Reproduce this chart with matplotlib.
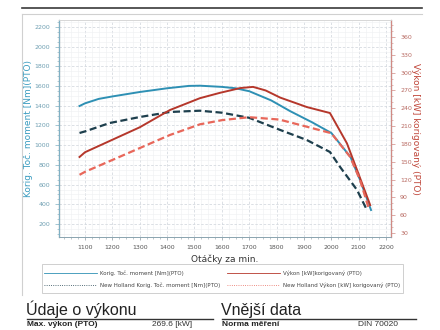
import matplotlib
matplotlib.use("Agg")
import matplotlib.pyplot as plt
from matplotlib.lines import Line2D
from matplotlib.patches import Rectangle
from matplotlib.ticker import AutoMinorLocator

# ── Paleta ──────────────────────────────────────────────────
BLUE = "#2e90b4"
RED = "#b5372b"
NAVY = "#1e3f4d"
SALMON = "#e8675a"
GRID = "#d6dbe0"

# ── Datos ───────────────────────────────────────────────────
rpm_moment = [1080, 1100, 1150, 1200, 1300, 1400, 1480, 1520, 1600, 1650, 1700, 1780, 1850, 1930, 2000, 2070, 2105, 2145]
moment = [1398, 1425, 1470, 1495, 1540, 1578, 1602, 1604, 1592, 1578, 1548, 1455, 1345, 1232, 1124, 880, 647, 342]

rpm_vykon = [1080, 1100, 1200, 1300, 1410, 1520, 1593, 1667, 1714, 1760, 1813, 1911, 1995, 2057, 2094, 2142]
vykon = [158, 166, 187, 208, 237, 257, 266, 274, 276, 270, 258, 242, 232, 181, 136, 77]

rpm_nh_moment = [1080, 1100, 1190, 1300, 1410, 1490, 1520, 1600, 1700, 1810, 1910, 1995, 2032, 2094, 2130]
nh_moment = [1124, 1140, 1225, 1286, 1337, 1347, 1350, 1330, 1278, 1158, 1053, 931, 779, 545, 342]

rpm_nh_vykon = [1080, 1100, 1200, 1300, 1410, 1520, 1600, 1700, 1810, 1910, 2000, 2069, 2105, 2135]
nh_vykon = [128, 133, 153, 173, 195, 213, 220, 225, 221, 209, 198, 158, 119, 74]

x_ticks = list(range(1100, 2201, 100))
left_ticks = list(range(200, 2201, 200))
right_ticks = list(range(30, 361, 30))

W, H = 440, 330
fx = lambda px: px / W
fy = lambda py: 1 - py / H

fig = plt.figure(figsize=(4.4, 3.3), dpi=100)
fig.patch.set_facecolor("white")

# rámeček
fig.add_artist(Line2D([fx(22), fx(422)], [fy(8), fy(8)], color="#3a3a3a", lw=1.2))
fig.add_artist(Line2D([fx(22), fx(422)], [fy(14), fy(14)], color="#d0d0d0", lw=0.8))
fig.add_artist(Line2D([fx(22), fx(22)], [fy(14), fy(295)], color="#d0d0d0", lw=0.8))

ax = fig.add_axes([fx(59), fy(237), (391 - 59) / W, (237 - 20) / H])
ax2 = ax.twinx()

ax.set_xlim(1005, 2218)
ax.set_ylim(68, 2271)
ax2.set_ylim(23.3, 388.6)

ax.plot(rpm_moment, moment, color=BLUE, lw=1.4, zorder=4)
ax.plot(rpm_nh_moment, nh_moment, color=NAVY, lw=1.6, ls=(0, (3.2, 1.6)), zorder=4)
ax2.plot(rpm_vykon, vykon, color=RED, lw=1.4, zorder=4)
ax2.plot(rpm_nh_vykon, nh_vykon, color=SALMON, lw=1.6, ls=(0, (3.2, 1.6)), zorder=4)

ax.set_xticks(x_ticks)
ax.set_yticks(left_ticks)
ax2.set_yticks(right_ticks)
ax.xaxis.set_minor_locator(AutoMinorLocator(4))
ax.yaxis.set_minor_locator(AutoMinorLocator(4))
ax2.yaxis.set_minor_locator(AutoMinorLocator(3))

ax.grid(which="major", color=GRID, lw=0.6, ls=(0, (3, 2)))
ax.grid(which="minor", color="#eef0f2", lw=0.4)
ax.set_axisbelow(True)

ax.tick_params(axis="x", labelsize=4.5, colors="#8a97a0", labelcolor="#555555", length=2.5, width=0.5)
ax.tick_params(axis="x", which="minor", length=1.5, width=0.4, colors="#8a97a0")
ax.tick_params(axis="y", labelsize=4.5, colors="#7fb0c4", labelcolor="#6f9fb2", length=3, width=0.5)
ax.tick_params(axis="y", which="minor", length=1.5, width=0.4, colors="#7fb0c4")
ax2.tick_params(axis="y", labelsize=4.5, colors="#d08a84", labelcolor="#b86a62", length=3, width=0.5)
ax2.tick_params(axis="y", which="minor", length=1.5, width=0.4, colors="#d08a84")

for a in (ax, ax2):
    a.spines["top"].set_color("#d8d8d8")
    a.spines["top"].set_linewidth(0.6)
    a.spines["bottom"].set_color("#8aa4b0")
    a.spines["bottom"].set_linewidth(0.6)
ax2.spines["left"].set_color("#7fb0c4")
ax2.spines["left"].set_linewidth(0.8)
ax2.spines["right"].set_color("#d08a84")
ax2.spines["right"].set_linewidth(0.8)

ax.set_ylabel("Korig. Toč. moment [Nm](PTO)", color="#3a9cc0", fontsize=6.5, labelpad=1)
ax2.set_ylabel("Výkon [kW] korigovaný (PTO)", color="#c0463a", fontsize=6.5, rotation=-90, labelpad=6)
ax.set_xlabel("Otáčky za min.", color="#333333", fontsize=6.5, labelpad=3)

# legenda
fig.add_artist(Rectangle((fx(42), fy(293)), 361 / W, 29 / H,
                         transform=fig.transFigure, fill=False, ec="#c8c8c8", lw=0.6))
legend_rows = [
    (273, BLUE, "-", "Korig. Toč. moment [Nm](PTO)", RED, "-", "Výkon [kW]korigovaný (PTO)"),
    (285, NAVY, ":", "New Holland Korig. Toč. moment [Nm](PTO)", SALMON, ":", "New Holland Výkon [kW] korigovaný (PTO)"),
]
for y, c1, s1, t1, c2, s2, t2 in legend_rows:
    fig.add_artist(Line2D([fx(44), fx(97)], [fy(y), fy(y)], color=c1, ls=s1, lw=0.6))
    fig.text(fx(100), fy(y), t1, fontsize=4, color="#444444", va="center")
    fig.add_artist(Line2D([fx(227), fx(280)], [fy(y), fy(y)], color=c2, ls=s2, lw=0.6))
    fig.text(fx(283), fy(y), t2, fontsize=4, color="#444444", va="center")

# spodní tabulky
HEAD = ["Liberation Sans", "DejaVu Sans"]
fig.text(fx(26), fy(315), "Údaje o výkonu", fontsize=11.5, family=HEAD, color="#222222", va="baseline")
fig.text(fx(221), fy(315), "Vnější data", fontsize=11.5, family=HEAD, color="#222222", va="baseline")
fig.add_artist(Line2D([fx(27), fx(213)], [fy(319), fy(319)], color="#333333", lw=1.0))
fig.add_artist(Line2D([fx(222), fx(416)], [fy(319), fy(319)], color="#333333", lw=1.0))
fig.text(fx(27), fy(324.5), "Max. výkon (PTO)", fontsize=6, family=HEAD, fontweight="bold", color="#222222", va="center")
fig.text(fx(152), fy(324.5), "269.6 [kW]", fontsize=6, family=HEAD, color="#333333", va="center")
fig.text(fx(222), fy(324.5), "Norma měření", fontsize=6, family=HEAD, fontweight="bold", color="#222222", va="center")
fig.text(fx(358), fy(324.5), "DIN 70020", fontsize=6, family=HEAD, color="#333333", va="center")

fig.savefig("out.png", dpi=100, facecolor="white")
